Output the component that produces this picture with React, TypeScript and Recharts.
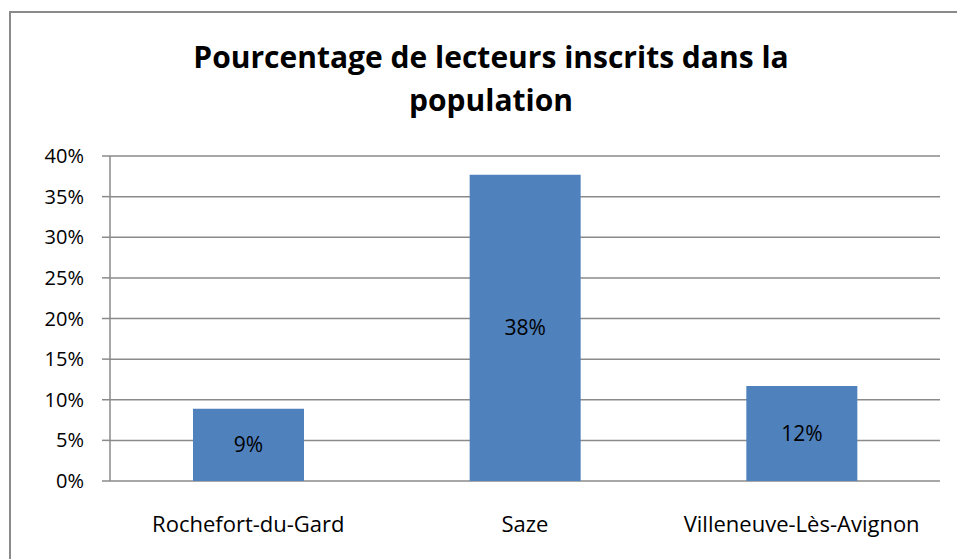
import React from 'react';
import { BarChart, Bar, XAxis, YAxis, CartesianGrid, LabelList } from 'recharts';

const communes = ['Rochefort-du-Gard', 'Saze', 'Villeneuve-Lès-Avignon'];
const pourcentages = [0.089, 0.377, 0.117];
const yTicks = [0, 0.05, 0.1, 0.15, 0.2, 0.25, 0.3, 0.35, 0.4];
const edgeTicks = [0, 1, 2, 3];

const data = communes.map((name, i) => ({ name, value: pourcentages[i] }));

const gray = '#8a8a8a';
const font = '"Open Sans", Lato, sans-serif';
const pct = (v: number) => `${Math.round(v * 100)}%`;

export default function App() {
    return (
        <div style={{ position: 'absolute', left: 0, top: 0, width: 957, height: 559, overflow: 'hidden', background: '#fff', fontFamily: font }}>
            <div style={{ position: 'absolute', left: 9, top: 11, width: 1000, height: 600, border: `2px solid ${gray}`, boxSizing: 'border-box' }} />
            <div style={{ position: 'absolute', left: 140, top: 35, width: 702, textAlign: 'center', fontWeight: 'bold', fontSize: 30, lineHeight: '43px', color: '#000' }}>
                Pourcentage de lecteurs inscrits dans la<br />population
            </div>
            <div style={{ position: 'absolute', left: 0, top: 0 }}>
                <BarChart width={957} height={559} data={data} margin={{ top: 156, right: 17, bottom: 0, left: 50 }}>
                    <CartesianGrid horizontal vertical={false} stroke={gray} strokeWidth={1.5} />
                    <XAxis
                        xAxisId="edges"
                        type="number"
                        domain={[0, 3]}
                        ticks={edgeTicks}
                        height={0}
                        tick={false}
                        tickLine={{ stroke: gray, strokeWidth: 1.5 }}
                        tickSize={8}
                        axisLine={{ stroke: gray, strokeWidth: 1.5 }}
                        allowDataOverflow
                    />
                    <XAxis
                        xAxisId="cat"
                        dataKey="name"
                        height={78}
                        tickLine={false}
                        axisLine={false}
                        tickMargin={29}
                        tick={{ fill: '#000', fontSize: 22, fontFamily: font }}
                        interval={0}
                    />
                    <YAxis
                        domain={[0, 0.4]}
                        ticks={yTicks}
                        tickFormatter={pct}
                        width={60}
                        tickSize={8}
                        tickMargin={18}
                        tickLine={{ stroke: gray, strokeWidth: 1.5 }}
                        axisLine={{ stroke: gray, strokeWidth: 1.5 }}
                        tick={{ fill: '#000', fontSize: 20, fontFamily: font }}
                    />
                    <Bar xAxisId="cat" dataKey="value" fill="#4f81bd" barSize={111} isAnimationActive={false}>
                        <LabelList dataKey="value" position="center" formatter={(v: any) => pct(Number(v))} fill="#000" fontSize={21} fontFamily={font} />
                    </Bar>
                </BarChart>
            </div>
        </div>
    );
}
